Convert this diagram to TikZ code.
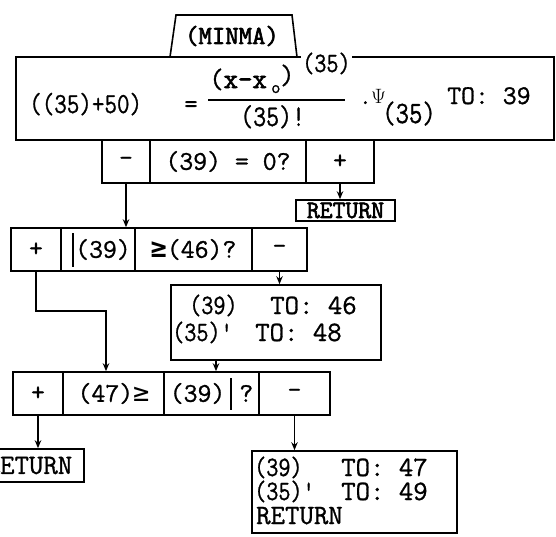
\documentclass[tikz,border=0pt]{standalone}
\usepackage{fontspec}
\usepackage{graphicx}
\newfontfamily\twa[FakeBold=1]{Latin Modern Mono}
\newfontfamily\twb[FakeBold=2.5]{Latin Modern Mono}
\newfontfamily\symf{DejaVu Sans Mono}
\newcommand\fsa[1]{\twa\fontsize{#1}{#1}\selectfont}
\newcommand\fsb[1]{\twb\fontsize{#1}{#1}\selectfont}
\newcommand\nar[1]{\scalebox{0.84}[1]{#1}}
\usetikzlibrary{arrows.meta,calc}
\tikzset{
 ln/.style={line width=1.6pt},
 arr/.style={line width=1.3pt,-{Stealth[length=8pt,width=6.5pt]}},
 cell/.style={draw,line width=1.6pt,inner sep=0pt,minimum height=43pt,font=\fsa{27}},
 frame/.style={draw,line width=1.6pt,inner sep=0pt},
 txt/.style={inner sep=0pt,anchor=base west},
}
\begin{document}
\begin{tikzpicture}[x=1pt,y=-1pt]
\useasboundingbox (0,0) rectangle (556,536);
\clip (0,0) rectangle (556,536);

% title trapezium
\draw[ln] (170,57) -- (176,15) -- (292,15) -- (297,57);
\node[inner sep=0pt,font=\fsb{26}] (minma) at (232,36) {(MINMA)};

% main formula box
\node[frame,minimum width=538pt,minimum height=83pt] (main) at (285,98.5) {};
\node[txt,font=\fsa{29}] (m1) at (29,113) {\nar{((35)+50)}};
\node[inner sep=0pt,anchor=base,font=\fsa{26}] (m2) at (191,112) {=};
\node[txt,font=\fsa{28}] (m3) at (209,88) {({\twb x-x}};
\node[txt,font=\fsa{18}] (m4) at (271,93) {o};
\node[txt,font=\fsa{28}] (m5) at (280,84) {)};
\node[txt,font=\fsa{28},fill=white,inner sep=1pt] (m6) at (301,72) {\nar{(35)}};
\draw[ln] (208,100) -- (345,100);
\node[txt,font=\fsa{30}] (m7) at (240,126) {\nar{(35)!}};
\node[txt,font=\fsa{24}] (m8) at (359,104) {.};
\node[txt,font=\fsa{21}] (m8b) at (371,103) {$\Psi$};
\node[txt,font=\fsa{31}] (m9) at (382,123) {\nar{(35)}};
\node[txt,font=\fsa{27}] (m10) at (447,104) {TO: 39};

% first decision row
\node[cell,minimum width=48pt] (c1m) at (126,161.5) {-};
\node[cell,minimum width=156pt] (c1q) at (228,161.5) {(39) = 0?};
\node[cell,minimum width=68pt] (c1p) at (340,161.5) {+};
\node[frame,minimum width=99pt,minimum height=21pt,font=\fsb{25}] (ret1) at (345.5,210.5) {RETURN};

% second decision row
\node[cell,minimum width=50pt] (c2p) at (36,249.5) {+};
\node[cell,minimum width=74pt] (c2a) at (98,249.5) {\hspace*{10pt}(39)};
\node[cell,minimum width=117pt] (c2b) at (193.5,249.5) {{\symf\bfseries ≥}(46)?};
\node[cell,minimum width=55pt] (c2m) at (279.5,249.5) {-};
\draw[ln] (73,233) -- (73,267);

% assignment box 46/48
\node[frame,minimum width=210pt,minimum height=75pt] (b46) at (276,322.5) {};
\node[txt,font=\fsa{28}] (t1) at (189,314) {\nar{(39)}};
\node[txt,font=\fsa{28}] (t2) at (270,314) {TO: 46};
\node[txt,font=\fsa{28}] (t3) at (172,341) {\nar{(35)'}};
\node[txt,font=\fsa{28}] (t4) at (255,341) {TO: 48};

% third decision row
\node[cell,minimum width=50pt] (c3p) at (38,393.5) {+};
\node[cell,minimum width=101pt] (c3a) at (113.5,393.5) {(47){\symf ≥}};
\node[cell,minimum width=95pt] (c3b) at (211.5,393.5) {(39)\hspace*{14pt}?};
\node[cell,minimum width=71pt] (c3m) at (294.5,393.5) {-};
\draw[ln] (231,378) -- (231,410);

% return boxes
\node[frame,minimum width=110pt,minimum height=33pt,font=\fsa{28}] (ret2) at (29,465.5) {RETURN};
\node[frame,minimum width=205pt,minimum height=82pt] (b49) at (354.5,492) {};
\node[txt,font=\fsa{28}] (u1) at (254,476) {\nar{(39)}};
\node[txt,font=\fsa{28}] (u2) at (341,476) {TO: 47};
\node[txt,font=\fsa{28}] (u3) at (254,500) {\nar{(35)'}};
\node[txt,font=\fsa{28}] (u4) at (341,500) {TO: 49};
\node[txt,font=\fsa{28}] (u5) at (256,524) {RETURN};

% connectors
\draw[arr] (c1m.south) -- (c1m.south |- c2a.north);
\draw[arr] (c1p.south) -- (c1p.south |- ret1.north);
\draw[arr] (c2m.south) -- (c2m.south |- b46.north);
\coordinate (bend) at (106,311);
\draw[arr] (c2p.south) |- (bend) -- (bend |- c3a.north);
\coordinate (drop) at (216,0);
\draw[arr] (b46.south -| drop) -- (drop |- c3b.north);
\draw[arr] (c3p.south) -- (c3p.south |- ret2.north);
\draw[arr] (c3m.south) -- (c3m.south |- b49.north);
\end{tikzpicture}
\end{document}
